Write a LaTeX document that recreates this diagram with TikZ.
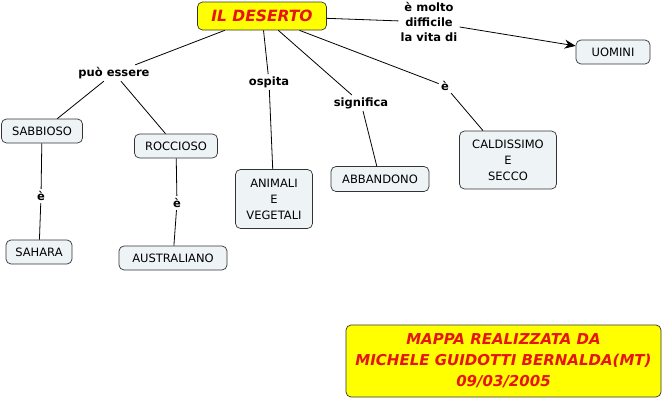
\documentclass[tikz,border=0pt]{standalone}
\usepackage{fontspec}
\setmainfont{DejaVu Sans}
\usetikzlibrary{arrows, arrows.meta, shapes, positioning}

\definecolor{conceptfill}{RGB}{238,243,246}
\definecolor{mapyellow}{RGB}{255,255,0}
\definecolor{mapred}{RGB}{230,20,20}

\tikzset{
    concept/.style={draw=black!80, fill=conceptfill, rounded corners=5pt, line width=0.7pt,
        align=center, font=\fontsize{11.5}{16}\selectfont, inner sep=4pt},
    link/.style={font=\bfseries\fontsize{11.5}{15}\selectfont, align=center, inner sep=2pt},
    title/.style={draw=black!80, fill=mapyellow, rounded corners=5pt, line width=0.7pt,
        align=center, text=mapred, font=\bfseries\itshape},
    every path/.style={line width=0.8pt},
}

\begin{document}
\begin{tikzpicture}[x=1pt, y=-1pt, >={Stealth[length=11pt, width=9pt]}]
\useasboundingbox (0, 0) rectangle (664, 402);

% concepts
\node[title, minimum width=129pt, minimum height=28pt, font=\bfseries\itshape\fontsize{15.5}{17}\selectfont] (desert) at (262, 16) {IL DESERTO};
\node[concept, minimum width=74pt, minimum height=24pt] (men) at (613, 52) {UOMINI};
\node[concept, minimum width=81pt, minimum height=24pt] (sandy) at (42, 131) {SABBIOSO};
\node[concept, minimum width=83pt, minimum height=24pt] (rocky) at (176, 146) {ROCCIOSO};
\node[concept, minimum width=66pt, minimum height=24pt] (sahara) at (39, 252) {SAHARA};
\node[concept, minimum width=108pt, minimum height=24pt] (austr) at (173, 258) {AUSTRALIANO};
\node[concept, minimum width=77pt, minimum height=59pt] (life) at (274, 199) {ANIMALI\\E\\VEGETALI};
\node[concept, minimum width=98pt, minimum height=25pt] (left) at (380, 179) {ABBANDONO};
\node[concept, minimum width=97pt, minimum height=58pt] (hot) at (508, 160) {CALDISSIMO\\E\\SECCO};

% linking phrases
\node[link] (hard) at (429, 22) {è molto\\difficile\\la vita di};
\node[link] (canbe) at (114, 73) {può essere};
\node[link] (is1) at (41, 196) {è};
\node[link] (is2) at (177, 203) {è};
\node[link] (hosts) at (269, 82) {ospita};
\node[link] (means) at (361, 103) {significa};
\node[link] (is3) at (445, 86) {è};

% connectors
\draw (desert) -- (hard);
\draw[->] (hard) -- (men);
\draw (desert) -- (canbe);
\draw (canbe) -- (sandy);
\draw (canbe) -- (rocky);
\draw (sandy) -- (is1);
\draw (is1) -- (sahara);
\draw (rocky) -- (is2);
\draw (is2) -- (austr);
\draw (desert) -- (hosts);
\draw (hosts) -- (life);
\draw (desert) -- (means);
\draw (means) -- (left);
\draw (desert) -- (is3);
\draw (is3) -- (hot);

% credits
\node[title, minimum width=315pt, minimum height=72pt, font=\bfseries\itshape\fontsize{15}{21}\selectfont] (credit) at (503.5, 361)
    {MAPPA REALIZZATA DA\\MICHELE GUIDOTTI BERNALDA(MT)\\09/03/2005};
\end{tikzpicture}
\end{document}
